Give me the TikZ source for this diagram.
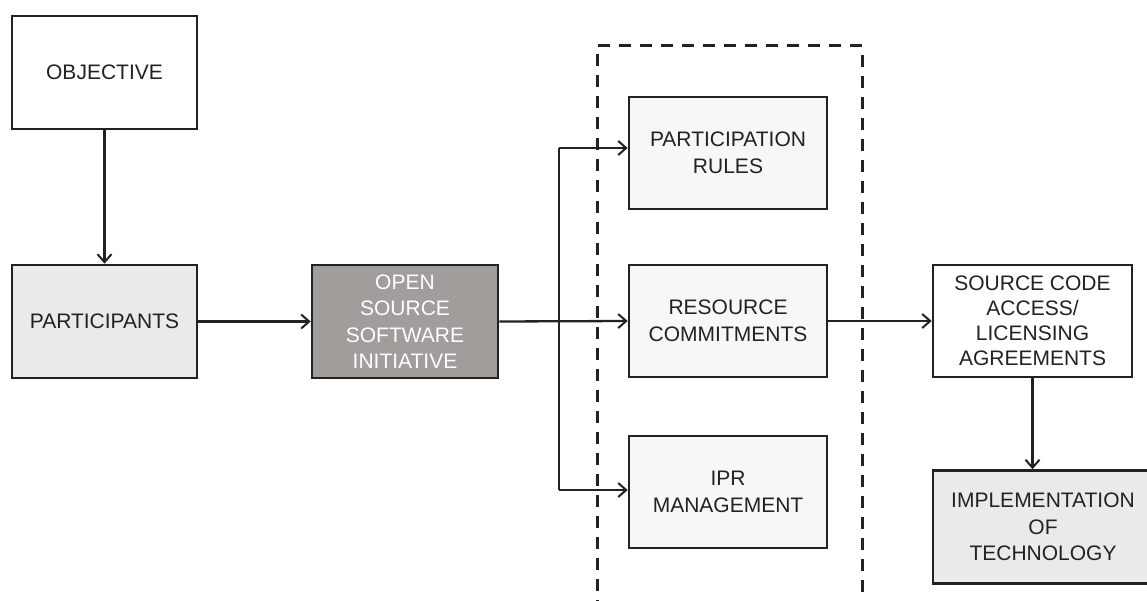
\documentclass[tikz,border=0pt]{standalone}
\usepackage{fontspec}
\setmainfont{Liberation Sans}
\usetikzlibrary{arrows.meta}
\definecolor{edge}{HTML}{222222}
\definecolor{lightfill}{HTML}{EAEAEA}
\definecolor{palefill}{HTML}{F7F7F5}
\definecolor{darkfill}{HTML}{A09D9A}
\tikzset{
  box/.style={draw=edge, line width=2.6pt, inner sep=0pt, align=center,
    font=\fontsize{21}{26.5}\selectfont, text=edge},
  conn/.style={draw=edge, line width=2.3pt},
  arr/.style={conn, -{Straight Barb[length=8pt,width=14pt,line width=2pt]}},
  dashbox/.style={draw=edge, line width=3pt, dash pattern=on 12pt off 9pt}
}
\begin{document}
\begin{tikzpicture}[x=1pt,y=-1pt]
\useasboundingbox (0,0) rectangle (1147,601);
\fill[white] (0,0) rectangle (1147,601);

\node[box, fill=white, minimum width=185pt, minimum height=113pt] (obj) at (104.5,72.5) {OBJECTIVE};
\node[box, fill=lightfill, minimum width=185pt, minimum height=113pt] (part) at (104.5,321.5) {PARTICIPANTS};
\node[box, fill=darkfill, text=white, minimum width=186pt, minimum height=113pt] (oss) at (405,321.5) {OPEN\\SOURCE\\SOFTWARE\\INITIATIVE};

\draw[dashbox] (597,612) -- (597,46) -- (862,46) -- (862,612);

\node[box, fill=palefill, minimum width=198pt, minimum height=112pt] (pr) at (728,153) {PARTICIPATION\\RULES};
\node[box, fill=palefill, minimum width=198pt, minimum height=112pt] (res) at (728,321) {RESOURCE\\COMMITMENTS};
\node[box, fill=palefill, minimum width=198pt, minimum height=112pt] (ipr) at (728,492) {IPR\\MANAGEMENT};

\node[box, fill=white, minimum width=199pt, minimum height=112pt, font=\fontsize{21}{25}\selectfont] (src) at (1032.5,321) {SOURCE CODE\\ACCESS/\\LICENSING\\AGREEMENTS};
\node[box, fill=lightfill, minimum width=220pt, minimum height=113pt] (impl) at (1043,527) {IMPLEMENTATION\\OF\\TECHNOLOGY};

\draw[arr] (obj.south) -- (part.north);
\draw[arr] (part.east) -- (oss.west);
\draw[arr] (oss.east) -- (res.west);
\coordinate (btop) at (559,148);
\coordinate (bbot) at (559,490);
\draw[conn] (btop) -- (bbot);
\draw[arr] (btop) -- (btop -| pr.west);
\draw[arr] (bbot) -- (bbot -| ipr.west);
\draw[arr] (res.east) -- (src.west);
\draw[arr] (src.south) -- (src.south |- impl.north);
\end{tikzpicture}
\end{document}
